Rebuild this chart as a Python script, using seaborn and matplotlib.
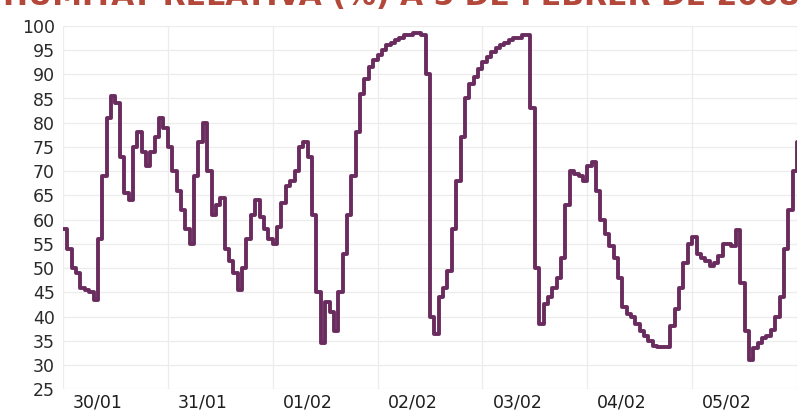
import numpy as np
import pandas as pd
import matplotlib
matplotlib.use("Agg")
import matplotlib.pyplot as plt
import seaborn as sns

title = "HUMITAT RELATIVA (%) A 5 DE FEBRER DE 2008"
day_labels = ["30/01", "31/01", "01/02", "02/02", "03/02", "04/02", "05/02"]
y_ticks = [25, 30, 35, 40, 45, 50, 55, 60, 65, 70, 75, 80, 85, 90, 95, 100]

# hourly relative humidity (%) from 30/01 00h
humidity = [
    58, 54, 50, 49, 46, 45.5, 45, 43.5, 56, 69, 81, 85.5, 84, 73, 65.5, 64,
    75, 78, 74, 71, 74, 77, 81, 79,
    75, 70, 66, 62, 58, 55, 69, 76, 80, 70, 61, 63, 64.5, 54, 51.5, 49,
    45.5, 50, 56, 61, 64, 60.5, 58, 56,
    55, 58.5, 63.5, 67, 68, 70, 75, 76, 73, 61, 45, 34.5, 43, 41,
    37, 45, 53, 61, 69, 78, 86, 89,
    91.5, 93, 94, 95, 96, 96.5, 97, 97.5, 98, 98, 98.5, 98.5, 98, 90, 40, 36.5,
    44, 46, 49.5, 58, 68, 77, 85, 88,
    89.5, 91, 92.5, 93.5, 94.5, 95.5, 96, 96.5, 97, 97.5, 97.5, 98, 98, 83, 50, 38.5,
    42.5, 44, 46, 48, 52, 63, 70, 69.5,
    69, 68, 71, 72, 66, 60, 57, 54.5, 52, 48, 42, 40.5, 40, 38.5, 37, 36,
    35, 34, 33.7, 33.7, 33.7, 38, 41.5, 46,
    51, 55, 56.5, 53, 52, 51.5, 50.5, 51, 52.5, 55, 55, 54.5, 57.8, 47, 37, 31,
    33.5, 34.5, 35.5, 36, 37.2, 40, 44, 54,
    62, 70, 76, 80, 82,
]
hours = list(range(len(humidity)))

df = pd.DataFrame({"hora": hours, "humitat": humidity})

sns.set_theme(style="whitegrid")
plt.rcParams["font.family"] = ["DejaVu Sans"]

fig = plt.figure(figsize=(8.0, 4.11), dpi=100)
ax = fig.add_axes([63 / 800, 1 - 389.3 / 411, (797 - 63) / 800, (389.3 - 25.8) / 411])

sns.lineplot(data=df, x="hora", y="humitat", ax=ax, color="#6a2c5f",
             linewidth=2.8, drawstyle="steps-post")

n_days = len(day_labels)
ax.set_xlim(0, 24 * n_days)
ax.set_ylim(25, 100)
ax.set_yticks(y_ticks)
ax.set_yticklabels([str(v) for v in y_ticks], color="#2a2a2a", fontsize=12.5)

ax.set_xticks([24 * i + 8 for i in range(n_days)])
ax.set_xticklabels(day_labels, color="#1e1e1e", fontsize=12.5)
ax.set_xticks([24 * i for i in range(n_days + 1)], minor=True)

ax.grid(False)
ax.grid(axis="y", which="major", color="#ececec", linewidth=0.9)
ax.grid(axis="x", which="minor", color="#ececec", linewidth=0.9)
ax.tick_params(axis="both", which="both", length=0)
ax.tick_params(axis="y", pad=6)
ax.tick_params(axis="x", pad=3)
for s in ax.spines.values():
    s.set_visible(False)
ax.set_xlabel("")
ax.set_ylabel("")
ax.set_facecolor("white")

fig.text(0.004, 1 - 5 / 411, title, color="#b2473a", fontsize=21.5,
         fontweight="bold", ha="left", va="baseline")

fig.savefig("out.png", dpi=100, facecolor="white")
